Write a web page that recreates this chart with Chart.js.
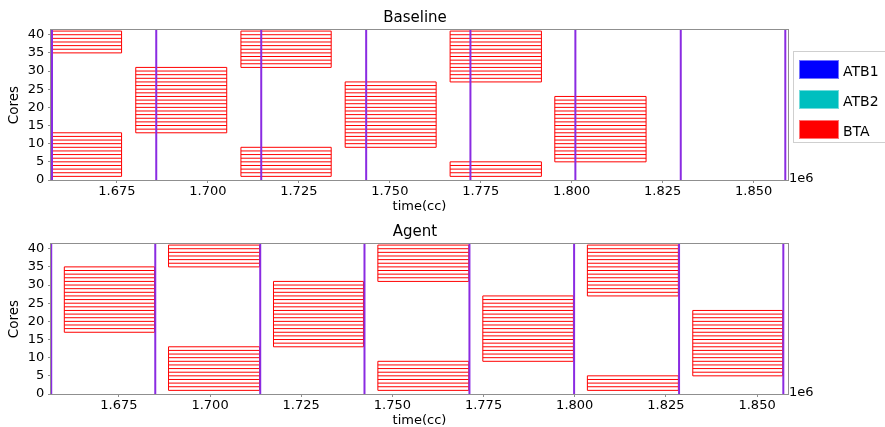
<!DOCTYPE html>
<html>
<head>
<meta charset="utf-8">
<title>Baseline / Agent</title>
<script src="https://cdn.jsdelivr.net/npm/chart.js@4.4.1/dist/chart.umd.min.js"></script>
<style>
  body { margin: 0; background: #fff; overflow: hidden; }
  .panel { position: absolute; left: 0; }
</style>
</head>
<body>
<div class="panel" style="top:0"><canvas id="baseline" width="885" height="214"></canvas></div>
<div class="panel" style="top:214px"><canvas id="agent" width="885" height="214"></canvas></div>
<script>
const FONT = '"DejaVu Sans", Verdana, sans-serif';
const TEXT = '#000';

const timeTicks = [1675000, 1700000, 1725000, 1750000, 1775000, 1800000, 1825000, 1850000];
const coreTicks = [0, 5, 10, 15, 20, 25, 30, 35, 40];

// BTA segments: start/end cycle and first/last core (a job that wraps gets two segments)
const baselineStart = [1651300, 1651300, 1680190, 1709090, 1709090, 1737740, 1766580, 1766580, 1795350];
const baselineEnd   = [1676290, 1676290, 1705190, 1733900, 1733900, 1762740, 1791670, 1791670, 1820430];
const baselineFrom  = [35, 1, 13, 31, 1, 9, 27, 1, 5];
const baselineTo    = [40, 12, 30, 40, 8, 26, 40, 4, 22];
const baselineMarks = [1657170, 1685820, 1714670, 1743510, 1772160, 1801000, 1829960, 1858690];

const agentStart = [1660040, 1688620, 1688620, 1717400, 1746020, 1746020, 1774800, 1803470, 1803470, 1832370];
const agentEnd   = [1684790, 1713570, 1713570, 1742070, 1770950, 1770950, 1799640, 1828420, 1828420, 1857030];
const agentFrom  = [17, 35, 1, 13, 31, 1, 9, 27, 1, 5];
const agentTo    = [34, 40, 12, 30, 40, 8, 26, 40, 4, 22];
const agentMarks = [1656450, 1684980, 1713760, 1742350, 1771130, 1799830, 1828610, 1857200];

const legendLabels = ['ATB1', 'ATB2', 'BTA'];
const legendColors = ['#0000ff', '#00bfbf', '#ff0000'];

const CORE_MIN = 0;
const CORE_MAX = 41.3;

function segment(x0, y0, x1, y1, color, width, order) {
  return {
    showLine: true,
    data: [{x: x0, y: y0}, {x: x1, y: y1}],
    borderColor: color,
    borderWidth: width,
    order: order
  };
}

// core rows of a segment share their edges, so every row boundary is drawn once,
// then the two sides; purple event lines go on top
function buildDatasets(starts, ends, from, to, marks) {
  const sets = [];
  for (let i = 0; i < starts.length; i++) {
    for (let c = from[i]; c <= to[i] + 1; c++) {
      sets.push(segment(starts[i], c, ends[i], c, '#ff0000', 1, 1));
    }
    sets.push(segment(starts[i], from[i], starts[i], to[i] + 1, '#ff0000', 1, 1));
    sets.push(segment(ends[i], from[i], ends[i], to[i] + 1, '#ff0000', 1, 1));
  }
  marks.forEach(function(t) {
    sets.push(segment(t, CORE_MIN, t, CORE_MAX, '#8a2be2', 2, 0));
  });
  return sets;
}

const panelDecor = {
  id: 'panelDecor',
  afterDatasetsDraw(chart, args, opts) {
    const ctx = chart.ctx;
    const a = chart.chartArea;
    ctx.save();
    ctx.strokeStyle = '#8f8f8f';
    ctx.lineWidth = 1;
    ctx.strokeRect(a.left - 0.5, a.top - 0.5, a.right - a.left + 1, a.bottom - a.top + 1);
    ctx.fillStyle = TEXT;
    ctx.font = '13px ' + FONT;
    ctx.textAlign = 'left';
    ctx.textBaseline = 'middle';
    ctx.fillText('1e6', a.right + 1, a.bottom - 1);
    ctx.font = '15px ' + FONT;
    ctx.textAlign = 'center';
    ctx.textBaseline = 'alphabetic';
    ctx.fillText(opts.title, 415, 21.5);
    ctx.restore();
  }
};

const sideLegend = {
  id: 'sideLegend',
  afterDraw(chart, args, opts) {
    if (!opts.show) return;
    const ctx = chart.ctx;
    ctx.save();
    ctx.fillStyle = '#fff';
    ctx.fillRect(793.5, 51.5, 100, 91);
    ctx.strokeStyle = '#cfcfcf';
    ctx.lineWidth = 1;
    ctx.strokeRect(793.5, 51.5, 100, 91);
    ctx.font = '14px ' + FONT;
    ctx.textAlign = 'left';
    ctx.textBaseline = 'alphabetic';
    legendLabels.forEach(function(label, i) {
      const y = 60 + i * 30;
      ctx.fillStyle = legendColors[i];
      ctx.fillRect(799, y, 40, 19);
      ctx.strokeStyle = 'rgba(255,255,255,0.45)';
      ctx.strokeRect(799.5, y + 0.5, 39, 18);
      ctx.fillStyle = TEXT;
      ctx.fillText(label, 843, y + 15.5);
    });
    ctx.restore();
  }
};

function makeChart(id, title, xMin, xMax, datasets, showLegend) {
  return new Chart(document.getElementById(id), {
    type: 'scatter',
    data: { datasets: datasets },
    plugins: [panelDecor, sideLegend],
    options: {
      responsive: false,
      animation: false,
      devicePixelRatio: 1,
      events: [],
      layout: { padding: { top: 30, right: 97, bottom: 0, left: 0 } },
      elements: { point: { radius: 0 }, line: { tension: 0, fill: false } },
      plugins: {
        legend: { display: false },
        tooltip: { enabled: false },
        title: { display: false },
        panelDecor: { title: title },
        sideLegend: { show: showLegend }
      },
      scales: {
        x: {
          type: 'linear',
          min: xMin,
          max: xMax,
          afterBuildTicks: function(s) { s.ticks = timeTicks.map(v => ({ value: v })); },
          afterFit: function(s) { s.height = 34; },
          border: { display: false },
          grid: { display: true, drawOnChartArea: false, drawTicks: true, tickLength: 3, tickColor: '#8f8f8f' },
          ticks: {
            padding: 0.5,
            maxRotation: 0,
            autoSkip: false,
            color: TEXT,
            font: { family: FONT, size: 13 },
            callback: v => (v / 1e6).toFixed(3)
          },
          title: {
            display: true,
            text: 'time(cc)',
            color: TEXT,
            font: { family: FONT, size: 13 },
            padding: { top: 0, bottom: 0 }
          }
        },
        y: {
          type: 'linear',
          min: CORE_MIN,
          max: CORE_MAX,
          afterBuildTicks: function(s) { s.ticks = coreTicks.map(v => ({ value: v })); },
          afterFit: function(s) { s.width = 51; },
          border: { display: false },
          grid: { display: true, drawOnChartArea: false, drawTicks: true, tickLength: 3, tickColor: '#8f8f8f' },
          ticks: {
            padding: 3.8,
            autoSkip: false,
            color: TEXT,
            font: { family: FONT, size: 13 }
          },
          title: {
            display: true,
            text: 'Cores',
            color: TEXT,
            font: { family: FONT, size: 13.5 },
            padding: { top: 6, bottom: 0 }
          }
        }
      }
    }
  });
}

makeChart('baseline', 'Baseline', 1656897, 1859433,
  buildDatasets(baselineStart, baselineEnd, baselineFrom, baselineTo, baselineMarks), true);
makeChart('agent', 'Agent', 1656389, 1858483,
  buildDatasets(agentStart, agentEnd, agentFrom, agentTo, agentMarks), false);
</script>
</body>
</html>
